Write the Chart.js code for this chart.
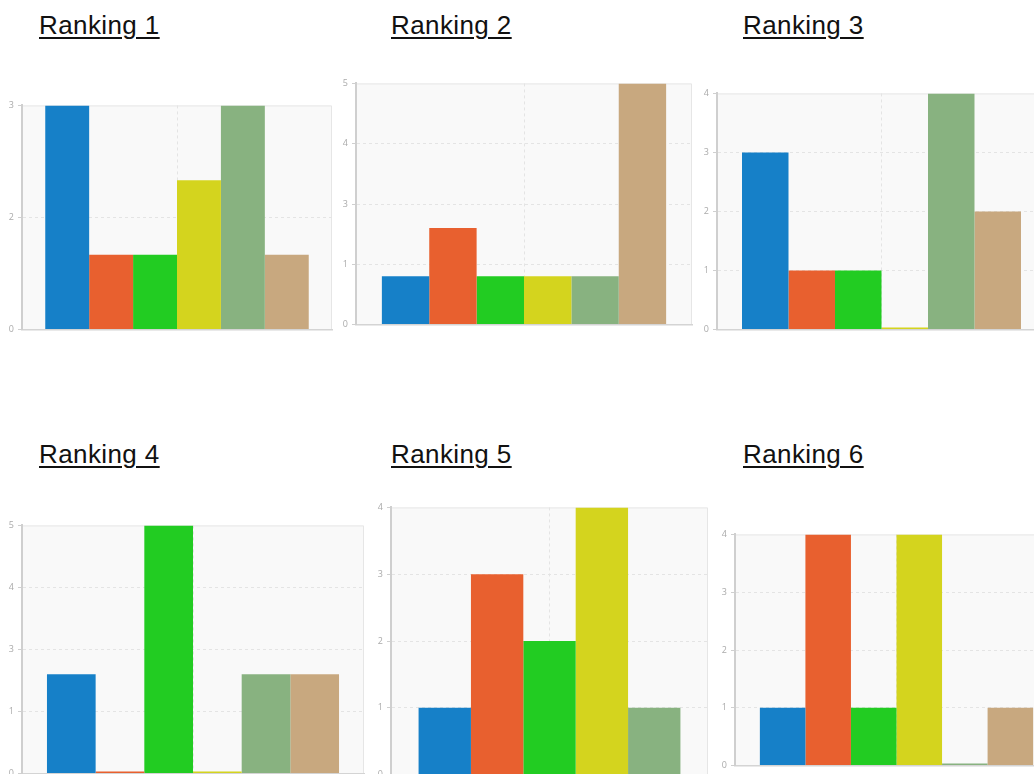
<!DOCTYPE html>
<html>
<head>
<meta charset="utf-8">
<title>Ranking</title>
<script src="https://cdn.jsdelivr.net/npm/chart.js@4.4.1/dist/chart.umd.min.js"></script>
<style>
  html, body {
    margin: 0;
    padding: 0;
    background: #ffffff;
    width: 1034px;
    height: 774px;
    overflow: hidden;
    position: relative;
  }
  .title {
    position: absolute;
    font-family: "Liberation Sans", Arial, sans-serif;
    font-size: 26px;
    line-height: 30px;
    letter-spacing: 0.4px;
    color: #111;
    text-decoration: underline;
    text-decoration-thickness: 2px;
    text-underline-offset: 3px;
    white-space: nowrap;
  }
  canvas {
    position: absolute;
  }
</style>
</head>
<body>

<script>
// chart titles
const rankings = ["Ranking 1", "Ranking 2", "Ranking 3", "Ranking 4", "Ranking 5", "Ranking 6"];

// bar values per ranking, one bar per option (left to right)
const ranking1 = [3, 1, 1, 2, 3, 1];
const ranking2 = [1, 2, 1, 1, 1, 5];
const ranking3 = [3, 1, 1, 0, 4, 2];
const ranking4 = [2, 0, 5, 0, 2, 2];
const ranking5 = [1, 3, 2, 4, 1];
const ranking6 = [1, 4, 1, 4, 0, 1];

// y axis: top value and number of steps (labels are rounded, as in the screenshot)
const yMax = [3, 5, 4, 5, 4, 4];
const ySteps = [2, 4, 4, 4, 4, 4];

const allValues = [ranking1, ranking2, ranking3, ranking4, ranking5, ranking6];

// colours of the options
const barColors = ["#1680c8", "#e8602f", "#22cc22", "#d4d41e", "#88b280", "#c8a87f"];

// where each plot sits on the page: left, top, right, bottom of plot area, bar group share
const plots = [
  { title: [39, 10],   area: [22, 104, 332, 331],  share: 0.85 },
  { title: [391, 10],  area: [356, 82, 692, 326],  share: 0.846 },
  { title: [743, 10],  area: [717, 92, 1046, 331], share: 0.848 },
  { title: [39, 439],  area: [22, 524, 364, 775],  share: 0.854 },
  { title: [391, 439], area: [391, 506, 708, 776], share: 0.826 },
  { title: [743, 439], area: [735, 533, 1058, 767], share: 0.846 }
];

const AXIS_W = 20;
const PAD_T = 8;
const PAD_B = 8;
const PAD_R = 4;

// light plot background plus the thin top / right frame
const plotFrame = {
  id: "plotFrame",
  beforeDraw(chart) {
    const { ctx, chartArea: a } = chart;
    ctx.save();
    ctx.fillStyle = "#f9f9f9";
    ctx.fillRect(a.left, a.top, a.right - a.left, a.bottom - a.top);
    ctx.strokeStyle = "#e6e6e6";
    ctx.lineWidth = 1;
    ctx.beginPath();
    ctx.moveTo(a.left, a.top + 0.5);
    ctx.lineTo(a.right - 0.5, a.top + 0.5);
    ctx.lineTo(a.right - 0.5, a.bottom);
    ctx.stroke();
    ctx.restore();
  }
};

plots.forEach((p, idx) => {
  const [L, T, R, B] = p.area;

  const title = document.createElement("div");
  title.className = "title";
  title.textContent = rankings[idx];
  title.style.left = p.title[0] + "px";
  title.style.top = p.title[1] + "px";
  document.body.appendChild(title);

  const canvas = document.createElement("canvas");
  const w = R - L + AXIS_W + PAD_R;
  const h = B - T + PAD_T + PAD_B;
  canvas.width = w;
  canvas.height = h;
  canvas.style.left = (L - AXIS_W) + "px";
  canvas.style.top = (T - PAD_T) + "px";
  canvas.style.width = w + "px";
  canvas.style.height = h + "px";
  document.body.appendChild(canvas);

  const values = allValues[idx];
  const max = yMax[idx];

  new Chart(canvas.getContext("2d"), {
    type: "bar",
    data: {
      labels: [""],
      datasets: values.map((v, i) => ({
        label: "Option " + (i + 1),
        data: [v],
        backgroundColor: barColors[i],
        borderWidth: 0,
        barPercentage: 1,
        categoryPercentage: p.share,
        minBarLength: 2
      }))
    },
    options: {
      responsive: false,
      animation: false,
      layout: {
        padding: { top: PAD_T, bottom: PAD_B, left: 0, right: PAD_R }
      },
      plugins: {
        legend: { display: false },
        tooltip: { enabled: false }
      },
      scales: {
        x: {
          afterFit: s => { s.height = 0; },
          ticks: { display: false },
          grid: {
            offset: false,
            drawTicks: false,
            color: "#e4e4e4",
            lineWidth: 1
          },
          border: {
            color: "#d4d4d4",
            width: 1.5,
            dash: [3, 3]
          }
        },
        y: {
          min: 0,
          max: max,
          afterFit: s => { s.width = AXIS_W; },
          ticks: {
            stepSize: max / ySteps[idx],
            padding: 4,
            color: "#aaaaaa",
            font: { family: "'Open Sans', sans-serif", size: 9 },
            callback: v => String(Math.round(v))
          },
          grid: {
            color: c => (c.tick && c.tick.value === max ? "rgba(0,0,0,0)" : "#e4e4e4"),
            lineWidth: 1,
            tickLength: 4,
            tickColor: "#cfcfcf"
          },
          border: {
            color: "#cfcfcf",
            width: 2,
            dash: [3, 3]
          }
        }
      }
    },
    plugins: [plotFrame]
  });
});
</script>
</body>
</html>
